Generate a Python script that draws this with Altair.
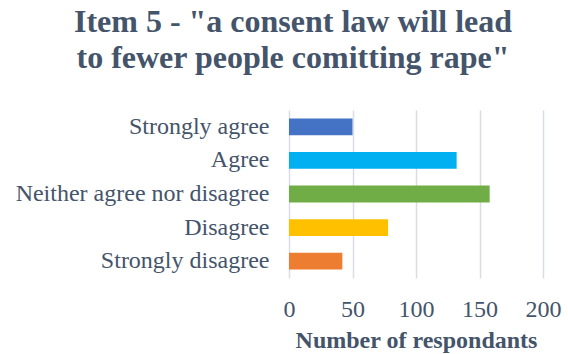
import altair as alt
import pandas as pd

categories = ["Strongly agree", "Agree", "Neither agree nor disagree", "Disagree", "Strongly disagree"]
values = [50, 132, 158, 78, 42]
colors = ["#4472C4", "#00B0F0", "#70AD47", "#FFC000", "#ED7D31"]
x_ticks = [0, 50, 100, 150, 200]

df = pd.DataFrame({"category": categories, "count": values})

FONT = "Liberation Serif"
TXT = "#44546A"

chart = alt.Chart(df).mark_bar().encode(
    y=alt.Y("category:N", sort=categories,
            scale=alt.Scale(paddingInner=0.5, paddingOuter=0.25),
            axis=alt.Axis(title=None, ticks=False, domain=False, labelPadding=20,
                          labelFont=FONT, labelFontSize=24, labelColor=TXT, labelLimit=400)),
    x=alt.X("count:Q", scale=alt.Scale(domain=[0, 200], nice=False),
            axis=alt.Axis(values=x_ticks, title="Number of respondants", ticks=False, domain=False,
                          labelFont=FONT, labelFontSize=24, labelColor=TXT, labelPadding=19,
                          labelFlush=False,
                          titleFont=FONT, titleFontSize=24, titleFontWeight="bold", titleColor=TXT,
                          titlePadding=7, grid=True, gridColor="#D9DDE3", gridWidth=1.5)),
    color=alt.Color("category:N", scale=alt.Scale(domain=categories, range=colors), legend=None),
).properties(
    width=254, height=168,
    autosize=alt.AutoSizeParams(type="none"),
    padding={"left": 289, "top": 110, "right": 25, "bottom": 76},
    title=alt.TitleParams(
        text=["Item 5 - \"a consent law will lead", "to fewer people comitting rape\""],
        font=FONT, fontSize=32, fontWeight="bold", color=TXT,
        anchor="middle", dx=-123, offset=35, lineHeight=36,
    ),
).configure_view(stroke=None)

chart.save("out.html", embed_options={"renderer": "svg", "actions": False})
